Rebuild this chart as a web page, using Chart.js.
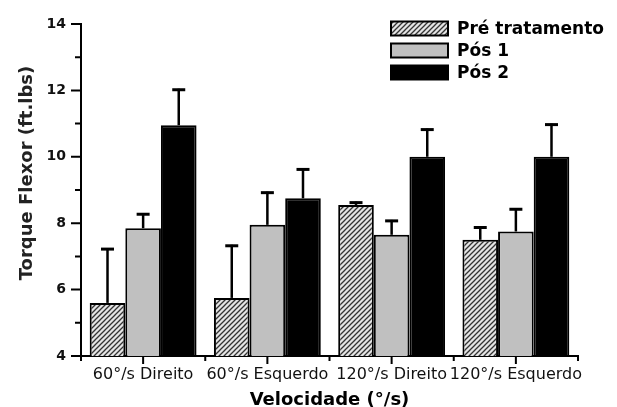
<!DOCTYPE html>
<html>
<head>
<meta charset="utf-8">
<script src="https://cdn.jsdelivr.net/npm/chart.js@4.4.1/dist/chart.umd.min.js"></script>
<style>
  html, body { margin: 0; padding: 0; background: #fff; }
  #wrap { width: 617px; height: 407px; }
</style>
</head>
<body>
<div id="wrap"><canvas id="grafico" width="617" height="407"></canvas></div>
<script>
// dados
const categorias = ['60°/s Direito', '60°/s Esquerdo', '120°/s Direito', '120°/s Esquerdo'];
const series = ['Pré tratamento', 'Pós 1', 'Pós 2'];
const preTratamento = [5.6, 5.75, 8.55, 7.5];
const pos1 = [7.85, 7.95, 7.65, 7.75];
const pos2 = [10.95, 8.75, 10.0, 10.0];
const erroPre = [1.65, 1.6, 0.1, 0.4];
const erroPos1 = [0.45, 1.0, 0.45, 0.7];
const erroPos2 = [1.1, 0.9, 0.85, 1.0];
const yTicks = [4, 6, 8, 10, 12, 14];

const fonte = '"DejaVu Sans", Verdana, sans-serif';

// padrão hachurado para "Pré tratamento"
function criaHachura() {
    const c = document.createElement('canvas');
    c.width = 5; c.height = 5;
    const g = c.getContext('2d');
    g.fillStyle = '#e4e4e4';
    g.fillRect(0, 0, 5, 5);
    g.strokeStyle = '#333';
    g.lineWidth = 1.3;
    g.beginPath();
    g.moveTo(-1, 6); g.lineTo(6, -1);
    g.moveTo(-1, 1); g.lineTo(1, -1);
    g.moveTo(4, 6); g.lineTo(6, 4);
    g.stroke();
    return g.createPattern(c, 'repeat');
}
const hachura = criaHachura();

// barras de erro (só a metade superior)
const errosPlugin = {
    id: 'erros',
    afterDatasetsDraw(chart) {
        const ctx = chart.ctx;
        const y = chart.scales.y;
        chart.data.datasets.forEach((ds, di) => {
            const meta = chart.getDatasetMeta(di);
            meta.data.forEach((bar, i) => {
                const topo = y.getPixelForValue(ds.data[i] + ds.erros[i]);
                ctx.save();
                ctx.strokeStyle = '#000';
                ctx.lineWidth = 2.5;
                ctx.beginPath();
                ctx.moveTo(bar.x, bar.y);
                ctx.lineTo(bar.x, topo);
                ctx.stroke();
                ctx.lineWidth = 3;
                ctx.beginPath();
                ctx.moveTo(bar.x - 6.5, topo + 1);
                ctx.lineTo(bar.x + 6.5, topo + 1);
                ctx.stroke();
                ctx.restore();
            });
        });
    }
};

// marcas dos eixos, título do eixo y e legenda
const eixosPlugin = {
    id: 'eixos',
    afterDraw(chart) {
        const ctx = chart.ctx;
        const x = chart.scales.x;
        const y = chart.scales.y;
        const a = chart.chartArea;
        ctx.save();
        ctx.strokeStyle = '#000';
        ctx.lineWidth = 2;
        ctx.beginPath();
        for (let v = 4; v <= 14; v++) {
            const py = y.getPixelForValue(v);
            ctx.moveTo(a.left - (v % 2 === 0 ? 10 : 6), py);
            ctx.lineTo(a.left, py);
        }
        const n = categorias.length;
        for (let i = 0; i <= n; i++) {
            const px = a.left + (a.right - a.left) * i / n;
            ctx.moveTo(px, a.bottom);
            ctx.lineTo(px, a.bottom + 5);
        }
        for (let i = 0; i < n; i++) {
            const px = x.getPixelForValue(i);
            ctx.moveTo(px, a.bottom);
            ctx.lineTo(px, a.bottom + 8);
        }
        ctx.stroke();

        // título do eixo y
        ctx.save();
        ctx.translate(27, 173);
        ctx.rotate(-Math.PI / 2);
        ctx.font = 'bold 18px ' + fonte;
        ctx.fillStyle = '#222';
        ctx.textAlign = 'center';
        ctx.textBaseline = 'middle';
        ctx.fillText('Torque Flexor (ft.lbs)', 0, 0);
        ctx.restore();

        // legenda
        const cores = [hachura, '#c0c0c0', '#000'];
        ctx.font = 'bold 17px ' + fonte;
        ctx.textBaseline = 'middle';
        series.forEach((s, i) => {
            const cy = 28.5 + i * 22;
            ctx.fillStyle = cores[i];
            ctx.fillRect(391, cy - 7, 57, 14);
            ctx.lineWidth = 2;
            ctx.strokeRect(391, cy - 7, 57, 14);
            ctx.fillStyle = '#000';
            ctx.fillText(s, 457, cy + 1);
        });
        ctx.restore();
    }
};

new Chart(document.getElementById('grafico'), {
    type: 'bar',
    data: {
        labels: categorias,
        datasets: [
            { label: series[0], data: preTratamento, erros: erroPre, backgroundColor: hachura, borderColor: '#000', borderWidth: 2 },
            { label: series[1], data: pos1, erros: erroPos1, backgroundColor: '#c0c0c0', borderColor: '#000', borderWidth: 2 },
            { label: series[2], data: pos2, erros: erroPos2, backgroundColor: '#000', borderColor: '#000', borderWidth: 2 }
        ]
    },
    options: {
        responsive: false,
        animation: false,
        layout: { padding: { top: 24, right: 39, left: 0, bottom: 0 } },
        datasets: { bar: { categoryPercentage: 0.86, barPercentage: 1.0 } },
        plugins: {
            legend: { display: false },
            tooltip: { enabled: false }
        },
        scales: {
            x: {
                grid: { display: false },
                border: { display: true, color: '#000', width: 2 },
                ticks: {
                    color: '#111', autoSkip: false, maxRotation: 0, padding: 1,
                    font: { family: fonte, size: 16 }
                },
                title: {
                    display: true, text: 'Velocidade (°/s)', color: '#000',
                    font: { family: fonte, size: 18, weight: 'bold', lineHeight: 1 },
                    padding: { top: 0, bottom: -2 }
                },
                afterFit(s) { s.height = 51; }
            },
            y: {
                min: 4, max: 14,
                afterBuildTicks(s) { s.ticks = yTicks.map(v => ({ value: v })); },
                grid: { display: false },
                border: { display: true, color: '#000', width: 2 },
                ticks: {
                    color: '#111', padding: 7,
                    font: { family: fonte, size: 14, weight: 'bold' }
                },
                afterFit(s) { s.width = 81; }
            }
        }
    },
    plugins: [errosPlugin, eixosPlugin]
});
</script>
</body>
</html>
